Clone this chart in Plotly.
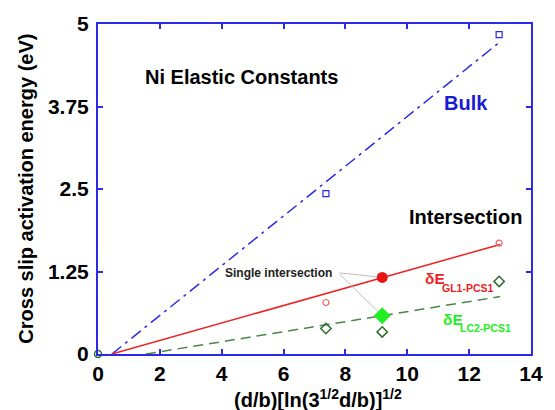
import plotly.graph_objects as go

# ---- data ----
bulk_x = [7.37, 12.97]
bulk_y = [2.43, 4.84]
gl1_x = [7.37, 12.97]
gl1_y = [0.78, 1.68]
lc2_x = [7.37, 9.19, 12.97]
lc2_y = [0.385, 0.335, 1.10]
origin_x = [0]
origin_y = [0]
single_x = [9.19]
gl1_single_y = [1.16]
lc2_single_y = [0.58]

bulk_fit_x = [0.45, 13.0]
bulk_fit_y = [0.0, 4.73]
gl1_fit_x = [0.45, 13.0]
gl1_fit_y = [0.0, 1.66]
lc2_fit_x = [1.55, 13.0]
lc2_fit_y = [0.0, 0.87]

x_ticks = [0, 2, 4, 6, 8, 10, 12, 14]
y_ticks = [0, 1.25, 2.5, 3.75, 5]
y_ticktext = ["0", "1.25", "2.5", "3.75", "5"]

BLUE = "#2b2be6"
RED = "#ee2222"
DGREEN = "#2f6f2f"
LGREEN = "#22ee22"
FONT = "Liberation Sans, Arial, sans-serif"

fig = go.Figure()

# fit lines
fig.add_trace(go.Scatter(x=bulk_fit_x, y=bulk_fit_y, mode="lines",
                         line=dict(color=BLUE, width=1.5, dash="12px,5px,3px,5px"),
                         cliponaxis=False))
fig.add_trace(go.Scatter(x=gl1_fit_x, y=gl1_fit_y, mode="lines",
                         line=dict(color=RED, width=1.5), cliponaxis=False))
fig.add_trace(go.Scatter(x=lc2_fit_x, y=lc2_fit_y, mode="lines",
                         line=dict(color="#4a874a", width=1.5, dash="10px,6px"),
                         cliponaxis=False))

# data points
fig.add_trace(go.Scatter(x=bulk_x, y=bulk_y, mode="markers",
                         marker=dict(symbol="square-open", size=6, color=BLUE,
                                     line=dict(width=1.2)), cliponaxis=False))
fig.add_trace(go.Scatter(x=gl1_x, y=gl1_y, mode="markers",
                         marker=dict(symbol="circle-open", size=6, color="#f06060",
                                     line=dict(width=1.2)), cliponaxis=False))
fig.add_trace(go.Scatter(x=lc2_x, y=lc2_y, mode="markers",
                         marker=dict(symbol="diamond-open", size=8, color=DGREEN,
                                     line=dict(width=1.5)), cliponaxis=False))
fig.add_trace(go.Scatter(x=origin_x, y=origin_y, mode="markers",
                         marker=dict(symbol="circle-open", size=7, color=DGREEN,
                                     line=dict(width=1.5)), cliponaxis=False))
fig.add_trace(go.Scatter(x=single_x, y=gl1_single_y, mode="markers",
                         marker=dict(symbol="circle", size=11, color="#e81515"),
                         cliponaxis=False))
fig.add_trace(go.Scatter(x=single_x, y=lc2_single_y, mode="markers",
                         marker=dict(symbol="diamond", size=13, color=LGREEN),
                         cliponaxis=False))

bold = dict(family=FONT, weight="bold")

annotations = [
    dict(x=4.65, y=4.19, text="Ni Elastic Constants", showarrow=False,
         font=dict(size=20, color="black", **bold)),
    dict(x=11.89, y=3.80, text="Bulk", showarrow=False,
         font=dict(size=20, color="#1a1ad0", **bold)),
    dict(x=11.89, y=2.08, text="Intersection", showarrow=False,
         font=dict(size=20, color="black", **bold)),
    dict(x=5.82, y=1.23, text="Single intersection", showarrow=False,
         font=dict(size=12, color="#222222", **bold)),
    dict(x=10.50, y=1.15, text="δE", showarrow=False, xanchor="left",
         font=dict(size=15.5, color=RED, **bold)),
    dict(x=11.06, y=1.00, text="GL1-PCS1", showarrow=False, xanchor="left",
         font=dict(size=10.5, color=RED, **bold)),
    dict(x=11.08, y=0.52, text="δE", showarrow=False, xanchor="left",
         font=dict(size=15.5, color=LGREEN, **bold)),
    dict(x=11.63, y=0.39, text="LC2-PCS1", showarrow=False, xanchor="left",
         font=dict(size=10.5, color=LGREEN, **bold)),
    # leader lines of "Single intersection"
    dict(x=single_x[0], y=gl1_single_y[0], ax=7.76, ay=1.232, axref="x", ayref="y",
         text="", showarrow=True, arrowhead=0, arrowwidth=1, arrowcolor="#bdbdbd",
         standoff=5),
    dict(x=single_x[0], y=lc2_single_y[0], ax=7.76, ay=1.232, axref="x", ayref="y",
         text="", showarrow=True, arrowhead=0, arrowwidth=1, arrowcolor="#bdbdbd",
         standoff=6),
    # axis titles
    dict(xref="paper", yref="paper", x=-0.167, y=0.50, xanchor="center",
         yanchor="middle",
         text="Cross slip activation energy (eV)", textangle=-90, showarrow=False,
         font=dict(size=20, color="black", **bold)),
    dict(xref="paper", yref="paper", x=0.509, y=-0.135, xanchor="center",
         yanchor="middle",
         text="(d/b)[ln(3<sup>1/2</sup>d/b)]<sup>1/2</sup>", showarrow=False,
         font=dict(size=20, color="black", **bold)),
]

axis_common = dict(showgrid=False, zeroline=False, showline=True, linecolor=BLUE,
                   linewidth=2, mirror="ticks", ticks="inside", ticklen=5,
                   tickwidth=1.5, tickcolor=BLUE,
                   tickfont=dict(size=21, color="black", **bold))

fig.update_layout(
    width=555, height=410,
    margin=dict(l=98, r=19, t=20, b=56),
    paper_bgcolor="white", plot_bgcolor="white",
    showlegend=False,
    annotations=annotations,
    xaxis=dict(range=[0, 14], tickvals=x_ticks, **axis_common),
    yaxis=dict(range=[0, 5], tickvals=y_ticks, ticktext=y_ticktext,
               ticklabelstandoff=3, **axis_common),
)

fig.write_html("out.html")
